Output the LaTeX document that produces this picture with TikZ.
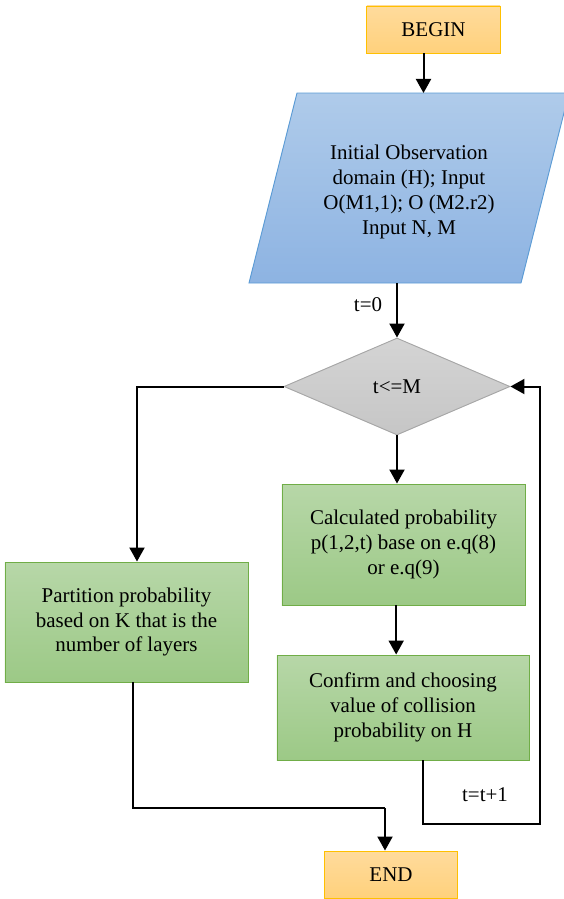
\documentclass[tikz,border=0pt]{standalone}
\usepackage{fontspec}
\setmainfont{Liberation Serif}
\usetikzlibrary{arrows.meta,positioning,shapes.geometric}
\definecolor{termtop}{HTML}{FFDB9C}
\definecolor{termbot}{HTML}{FFD17C}
\definecolor{termline}{HTML}{FFC000}
\definecolor{iotop}{HTML}{AFCBEA}
\definecolor{iobot}{HTML}{8DB3E2}
\definecolor{ioline}{HTML}{5B9BD5}
\definecolor{dectop}{HTML}{D4D4D4}
\definecolor{decbot}{HTML}{C6C6C6}
\definecolor{decline}{HTML}{A6A6A6}
\definecolor{proctop}{HTML}{B7D7A8}
\definecolor{procbot}{HTML}{9CC986}
\definecolor{procline}{HTML}{70AD47}

\begin{document}
\begin{tikzpicture}[x=0.03cm,y=-0.03cm,
  every node/.style={font=\fontsize{17.9}{21.3}\selectfont, align=center, inner sep=0pt},
  terminal/.style={rectangle, draw=termline, line width=0.8pt, top color=termtop, bottom color=termbot, minimum width=4cm, minimum height=1.41cm},
  iobox/.style={draw=ioline, line width=0.8pt, top color=iotop, bottom color=iobot},
  decision/.style={diamond, draw=decline, line width=0.8pt, top color=dectop, bottom color=decbot, minimum width=6.78cm, minimum height=2.91cm},
  process/.style={rectangle, draw=procline, line width=0.8pt, top color=proctop, bottom color=procbot, minimum width=7.29cm},
  link/.style={line width=1.7pt},
  arr/.style={link, -{Triangle[width=0.45cm,length=0.42cm]}}]
  \useasboundingbox (0,0) rectangle (564,899);

  \coordinate (ioc) at (409,188);
  \coordinate (io-n) at ([shift={(0,-95)}]ioc);
  \coordinate (io-s) at ([shift={(0,95)}]ioc);
  \path[iobox] ([shift={(-160,95)}]ioc) -- ([shift={(-112,-95)}]ioc) -- ([shift={(160,-95)}]ioc) -- ([shift={(112,95)}]ioc) -- cycle;

  \node[terminal] (begin) at (433.5,29.5) {BEGIN};
  \node (input) at ([shift={(0,4)}]ioc) {Initial Observation\\domain (H); Input\\O(M1,1); O (M2.r2)\\Input N, M};
  \node[decision] (test) at (397,386.5) {t<=M};
  \node[process, minimum height=3.6cm] (partition) at (126.5,622) {Partition probability\\based on K that is the\\number of layers};
  \node[process, minimum height=3.63cm] (calc) at (403.5,544.5) {Calculated probability\\p(1,2,t) base on e.q(8)\\or e.q(9)};
  \node[process, minimum width=7.56cm, minimum height=3.15cm] (confirm) at (403,707.5) {Confirm and choosing\\value of collision\\probability on H};
  \node[terminal] (end) at (391,874.5) {END};
  \node (tzero) at (368,305) {t=0};
  \node (tinc) at (485,795) {t=t+1};

  \coordinate (loop) at (540,824);
  \coordinate (merge) at (385,808);

  \draw[arr] ([xshift=-0.3cm]begin.south) -- ([xshift=-0.3cm]begin.south |- io-n);
  \draw[arr] (io-s -| test.north) -- (test.north);
  \draw[arr] (test.west) -| ([xshift=0.315cm]partition.north);
  \draw[arr] (test.south) -- (test.south |- calc.north);
  \draw[arr] ([xshift=-0.22cm]calc.south) -- ([xshift=-0.22cm]calc.south |- confirm.north);
  \draw[arr] ([xshift=0.6cm]confirm.south) |- (loop) |- (test.east);
  \draw[link] ([xshift=0.2cm]partition.south) |- (merge);
  \draw[arr] (merge) -- (merge |- end.north);
\end{tikzpicture}
\end{document}
